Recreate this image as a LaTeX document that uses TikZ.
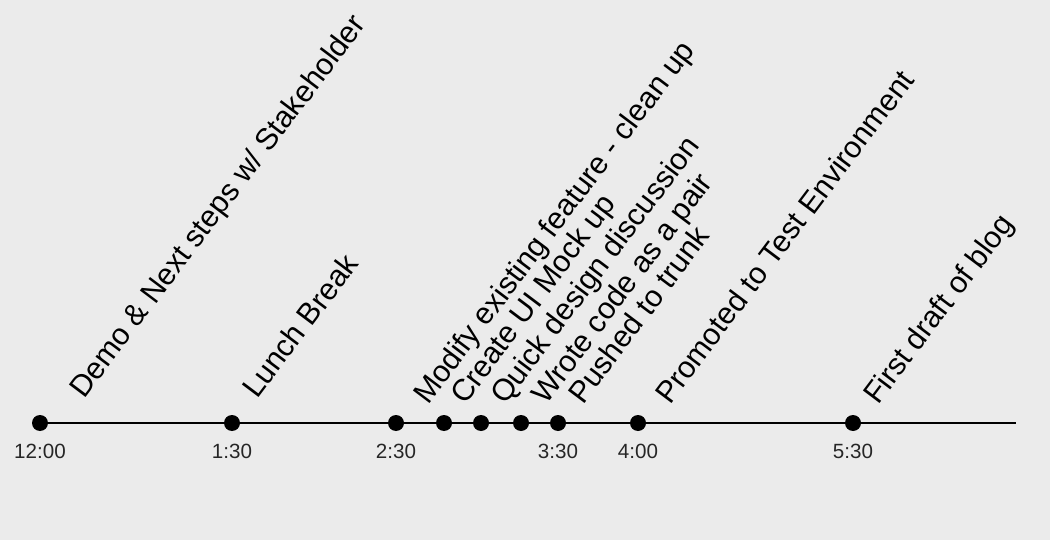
\documentclass[tikz,border=0pt]{standalone}
\usepackage{fontspec}
\setmainfont{Liberation Sans}
\usetikzlibrary{positioning}
\definecolor{bggray}{RGB}{235,235,235}
\tikzset{
  dot/.style={circle,fill=black,inner sep=0pt,minimum size=16pt},
  event/.style={rotate=53,anchor=base west,inner sep=0pt,
    font=\fontsize{30.3}{35}\selectfont},
  clock/.style={anchor=base,inner sep=0pt,text=black!85,
    font=\fontsize{20.6}{24}\selectfont}
}
\begin{document}
\begin{tikzpicture}[x=1pt,y=-1pt]
\fill[bggray] (0,0) rectangle (1050,540);
\coordinate (start) at (40,423);
\coordinate (stop) at (1016,423);
\draw[line width=1.6pt] (start) -- (stop);

% events on the line
\foreach \n/\x in {a/40,b/232,c/396,d/444,e/481,f/521,g/558,h/638,i/853}
  \node[dot] (\n) at (\x,423) {};

\node[event] (a-lbl) at ([xshift=44pt,yshift=23pt]a) {Demo \& Next steps w/ Stakeholder};
\node[event] (b-lbl) at ([xshift=25pt,yshift=23pt]b) {Lunch Break};
\node[event] (c-lbl) at ([xshift=32pt,yshift=17pt]c) {Modify existing feature - clean up};
\node[event] (d-lbl) at ([xshift=21pt,yshift=17pt]d) {Create UI Mock up};
\node[event] (e-lbl) at ([xshift=24pt,yshift=17pt]e) {Quick design discussion};
\node[event] (f-lbl) at ([xshift=25pt,yshift=17pt]f) {Wrote code as a pair};
\node[event] (g-lbl) at ([xshift=25pt,yshift=17pt]g) {Pushed to trunk};
\node[event] (h-lbl) at ([xshift=32pt,yshift=17pt]h) {Promoted to Test Environment};
\node[event] (i-lbl) at ([xshift=25pt,yshift=17pt]i) {First draft of blog};

% times below
\node[clock] (a-time) at ([yshift=-35pt]a) {12:00};
\node[clock] (b-time) at ([yshift=-35pt]b) {1:30};
\node[clock] (c-time) at ([yshift=-35pt]c) {2:30};
\node[clock] (g-time) at ([yshift=-35pt]g) {3:30};
\node[clock] (h-time) at ([yshift=-35pt]h) {4:00};
\node[clock] (i-time) at ([yshift=-35pt]i) {5:30};
\end{tikzpicture}
\end{document}
